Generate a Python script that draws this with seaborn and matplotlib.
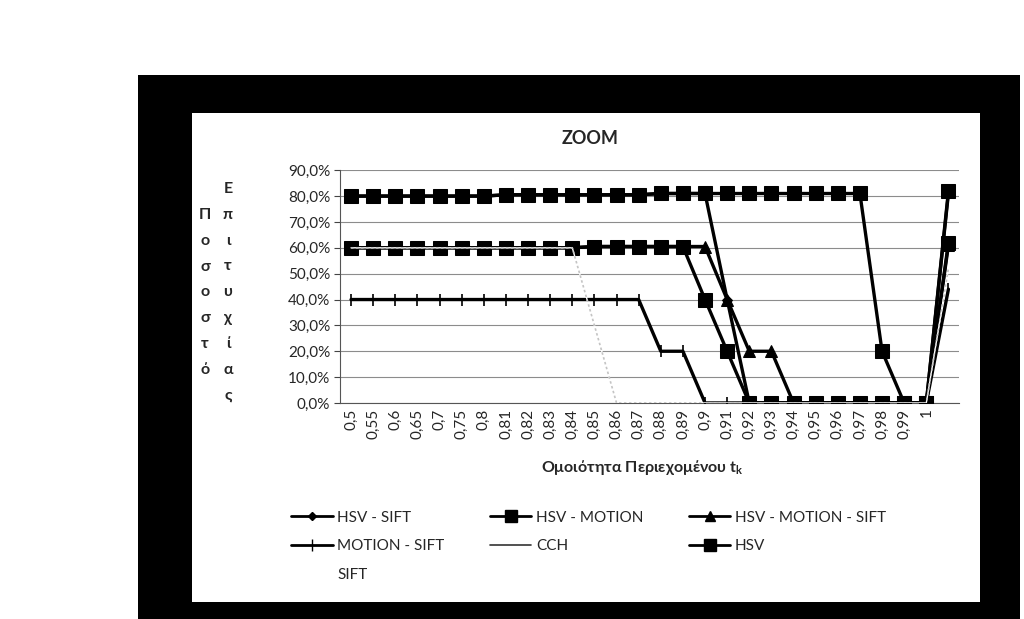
import matplotlib
matplotlib.use("Agg")
import matplotlib.pyplot as plt
import seaborn as sns
import numpy as np
from matplotlib.patches import Rectangle
from matplotlib.lines import Line2D
from matplotlib.ticker import FuncFormatter, MultipleLocator

# category labels of the x axis (last slot has no label)
tk_labels = ['0,5', '0,55', '0,6', '0,65', '0,7', '0,75', '0,8', '0,81', '0,82', '0,83',
             '0,84', '0,85', '0,86', '0,87', '0,88', '0,89', '0,9', '0,91', '0,92', '0,93',
             '0,94', '0,95', '0,96', '0,97', '0,98', '0,99', '1', '']

# success rates in %
hsv_sift = [80, 80, 80, 80, 80, 80, 80, 80.5, 80.5, 80.5, 80.5, 80.5, 80.5, 80.5,
            81, 81, 81, 40, 0, 0, 0, 0, 0, 0, 0, 0, 0, 81]
hsv_motion = [80, 80, 80, 80, 80, 80, 80, 80.5, 80.5, 80.5, 80.5, 80.5, 80.5, 80.5,
              81, 81, 81, 81, 81, 81, 81, 81, 81, 81, 20, 0, 0, 82]
hsv_motion_sift = [60, 60, 60, 60, 60, 60, 60, 60, 60, 60, 60, 60.5, 60.5, 60.5,
                   60.5, 60.5, 60.5, 40, 20, 20, 0, 0, 0, 0, 0, 0, 0, 61]
motion_sift = [40, 40, 40, 40, 40, 40, 40, 40, 40, 40, 40, 40, 40, 40,
               20, 20, 0, 0, 0, 0, 0, 0, 0, 0, 0, 0, 0, 44]
cch = [60, 60, 60, 60, 60, 60, 60, 60, 60, 60, 60, 30, 0, 0,
       0, 0, 0, 0, 0, 0, 0, 0, 0, 0, 0, 0, 0, 52]
hsv = [60, 60, 60, 60, 60, 60, 60, 60, 60, 60, 60, 60.5, 60.5, 60.5,
       60.5, 60.5, 40, 20, 0, 0, 0, 0, 0, 0, 0, 0, 0, 62]
sift = [60, 60, 60, 60, 60, 60, 60, 60, 60, 60, 60, 30, 0, 0,
        0, 0, 0, 0, 0, 0, 0, 0, 0, 0, 0, 0, 0, 52]

sns.set_style("white")
plt.rcParams['font.family'] = ['Lato', 'DejaVu Sans']
plt.rcParams['mathtext.fontset'] = 'custom'
plt.rcParams['mathtext.rm'] = 'Lato'
plt.rcParams['mathtext.bf'] = 'Lato:bold'
plt.rcParams['mathtext.it'] = 'Lato:italic'

fig = plt.figure(figsize=(10.24, 6.19), dpi=100)
fig.patch.set_facecolor('white')

# scanned black frame around the white chart area
fig.patches.append(Rectangle((0.1348, 0.0), 0.861, 0.879, transform=fig.transFigure,
                             facecolor='black', edgecolor='none', zorder=-2))
fig.patches.append(Rectangle((0.1875, 0.0275), 0.7695, 0.79, transform=fig.transFigure,
                             facecolor='white', edgecolor='none', zorder=-1))

ax = fig.add_axes([0.332, 0.349, 0.605, 0.376])
ax.set_zorder(3)
ax.set_facecolor('none')
x = np.arange(len(tk_labels))

lw = 2.4
sns.lineplot(x=x, y=hsv_sift, ax=ax, color='black', linewidth=lw, marker='D',
             markersize=5, markeredgecolor='black', label='HSV - SIFT', zorder=3)
sns.lineplot(x=x, y=hsv_motion, ax=ax, color='black', linewidth=lw, marker='s',
             markersize=10, markeredgecolor='black', label='HSV - MOTION', zorder=4)
sns.lineplot(x=x, y=hsv_motion_sift, ax=ax, color='black', linewidth=lw, marker='^',
             markersize=8, markeredgecolor='black', label='HSV - MOTION - SIFT', zorder=5)
sns.lineplot(x=x, y=motion_sift, ax=ax, color='black', linewidth=lw, marker='|',
             markersize=9, markeredgewidth=1.2, markeredgecolor='black',
             label='MOTION - SIFT', zorder=5)
sns.lineplot(x=x, y=hsv, ax=ax, color='black', linewidth=lw, marker='s',
             markersize=10, markeredgecolor='black', label='HSV', zorder=6)
sns.lineplot(x=x, y=sift, ax=ax, color='white', linewidth=1.0, label='SIFT', zorder=6.5)
sns.lineplot(x=x, y=cch, ax=ax, color='#c4c4c4', linewidth=1.2, linestyle=(0, (1.5, 1.5)),
             label='CCH', zorder=7)
ax.get_legend().remove()

ax.set_xlim(-0.5, len(tk_labels) - 0.5)
ax.set_ylim(0, 90)
ax.yaxis.set_major_locator(MultipleLocator(10))
ax.yaxis.set_major_formatter(FuncFormatter(lambda v, p: f"{v:.1f}%".replace('.', ',')))
ax.grid(axis='y', color='#8c8c8c', linewidth=0.8)
ax.set_axisbelow(True)
ax.set_xticks(x)
ax.set_xticklabels(tk_labels, rotation=90)
ax.set_xticks(np.arange(-0.5, len(tk_labels), 1), minor=True)
ax.tick_params(axis='x', which='major', length=0, pad=4, labelsize=11)
ax.tick_params(axis='x', which='minor', length=4, width=0.8, color='#444444', direction='out')
ax.tick_params(axis='y', length=4, width=0.8, color='#444444', labelsize=11, pad=3, left=True)
for side in ['top', 'right']:
    ax.spines[side].set_visible(False)
for side in ['left', 'bottom']:
    ax.spines[side].set_color('#555555')
    ax.spines[side].set_linewidth(0.8)
ax.set_xlabel('')
ax.set_ylabel('')

fig.text(0.576, 0.777, 'ZOOM', ha='center', va='center', fontsize=13, fontweight='bold')
fig.text(0.627, 0.245, r'Ομοιότητα Περιεχομένου $\mathbf{t_k}$', ha='center', va='center',
         fontsize=11.5, fontweight='bold')

# stacked y axis title, two words side by side
word1 = 'Ποσοστό'
word2 = 'Επιτυχίας'
for i, ch in enumerate(word1):
    fig.text(205 / 1024, 1 - (215 + i * 25.8) / 619, ch, ha='center', va='center',
             fontsize=11.5, fontweight='bold')
for i, ch in enumerate(word2):
    fig.text(228 / 1024, 1 - (189 + i * 25.8) / 619, ch, ha='center', va='center',
             fontsize=11.5, fontweight='bold')

# legend, laid out row by row like the original
handles = [
    Line2D([], [], color='black', lw=2, marker='D', markersize=4),
    Line2D([], [], color='black', lw=2, marker='|', markersize=8, markeredgewidth=1),
    Line2D([], [], color='none', lw=0),
    Line2D([], [], color='black', lw=2, marker='s', markersize=8),
    Line2D([], [], color='#333333', lw=1.2),
    Line2D([], [], color='black', lw=2, marker='^', markersize=7),
    Line2D([], [], color='black', lw=2, marker='s', markersize=8),
]
labels = ['HSV - SIFT', 'MOTION - SIFT', 'SIFT', 'HSV - MOTION', 'CCH',
          'HSV - MOTION - SIFT', 'HSV']
fig.legend(handles, labels, loc='upper left', bbox_to_anchor=(0.271, 0.197), ncol=3,
           frameon=False, fontsize=11, handlelength=2.7, handletextpad=0.3,
           columnspacing=3.0, labelspacing=0.95)

fig.savefig('out.png', dpi=100)
